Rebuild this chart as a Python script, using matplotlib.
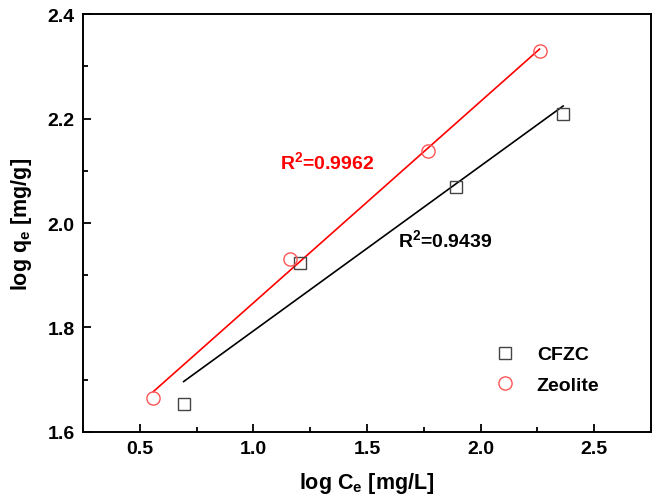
import numpy as np
import matplotlib.pyplot as plt
from matplotlib.ticker import MultipleLocator

plt.rcParams['font.family'] = 'Liberation Sans'
plt.rcParams['font.weight'] = 'bold'
plt.rcParams['axes.labelweight'] = 'bold'
plt.rcParams['mathtext.default'] = 'regular'

# Freundlich isotherm, linear form
cfzc_logce = [0.693, 1.207, 1.893, 2.363]
cfzc_logqe = [1.654, 1.923, 2.069, 2.209]
zeo_logce = [0.559, 1.163, 1.767, 2.259]
zeo_logqe = [1.665, 1.931, 2.138, 2.329]
r2_cfzc = '0.9439'
r2_zeo = '0.9962'

fig = plt.figure(figsize=(6.56, 5.02), dpi=100)
ax = fig.add_axes([0.1265, 0.1375, 0.866, 0.8325])

# fitted lines
for xs, ys, c in [(cfzc_logce, cfzc_logqe, 'black'), (zeo_logce, zeo_logqe, 'red')]:
    k, b = np.polyfit(xs, ys, 1)
    xx = np.array([min(xs), max(xs)])
    ax.plot(xx, k * xx + b, color=c, lw=1.2)

ax.plot(cfzc_logce, cfzc_logqe, 's', ms=8.5, mfc='none', mec='#444444', mew=1.0, label='CFZC')
ax.plot(zeo_logce, zeo_logqe, 'o', ms=9.5, mfc='none', mec='#ff5555', mew=1.0, label='Zeolite')

ax.text(1.324, 2.119, r'R$^2$=' + r2_zeo, color='red', fontsize=14, ha='center', va='center')
ax.text(1.846, 1.969, r'R$^2$=' + r2_cfzc, color='black', fontsize=14, ha='center', va='center')

ax.set_xlim(0.25, 2.75)
ax.set_ylim(1.6, 2.4)
ax.xaxis.set_major_locator(MultipleLocator(0.5))
ax.xaxis.set_minor_locator(MultipleLocator(0.25))
ax.yaxis.set_major_locator(MultipleLocator(0.2))
ax.yaxis.set_minor_locator(MultipleLocator(0.1))
ax.tick_params(which='both', direction='in', top=False, right=False, labelsize=14, width=1.3)
ax.tick_params(which='major', length=6, pad=6)
ax.tick_params(which='minor', length=3.5)
for s in ax.spines.values():
    s.set_linewidth(1.4)

ax.set_xlabel(r'log C$_{e}$ [mg/L]', fontsize=15.5, labelpad=9)
ax.set_ylabel(r'log q$_{e}$ [mg/g]', fontsize=15.5, labelpad=10)

ax.legend(loc='lower right', bbox_to_anchor=(0.94, 0.05), frameon=False, fontsize=14,
          handletextpad=1.0, labelspacing=0.65, handlelength=1.3)

fig.savefig('out.png', dpi=100)
